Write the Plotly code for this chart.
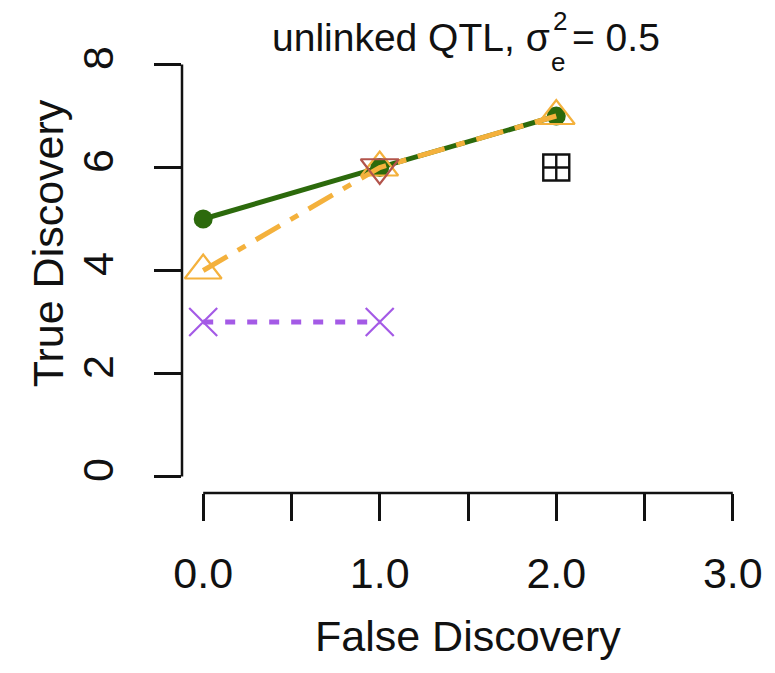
import plotly.graph_objects as go

# False / true discovery counts for each method
fd_green = [0, 1, 2]
td_green = [5, 6, 7]

fd_orange = [0, 1, 2]
td_orange = [4, 6, 7]

fd_red = [1]
td_red = [6]

fd_purple = [0, 1]
td_purple = [3, 3]

fd_black = [2]
td_black = [6]

x_tickvals = [0, 0.5, 1, 1.5, 2, 2.5, 3]
x_ticktext = ["0.0", "", "1.0", "", "2.0", "", "3.0"]
y_tickvals = [0, 2, 4, 6, 8]
y_ticktext = ["0", "2", "4", "6", "8"]

GREEN = "#2c6a0c"
ORANGE = "#f4b13c"
RED = "#b3544c"
PURPLE = "#a45ae6"
BLACK = "#111111"
FONT = "Liberation Sans, Arial, Helvetica, sans-serif"

W, H = 775, 673
ML, MR, MT, MB = 182, 16, 48, 180
PW, PH = W - ML - MR, H - MT - MB


def px_x(p):
    return (p - ML) / PW


def px_y(p):
    return (H - MB - p) / PH


fig = go.Figure()

fig.add_trace(go.Scatter(
    x=fd_green, y=td_green, mode="lines+markers",
    line=dict(color=GREEN, width=5),
    marker=dict(symbol="circle", size=19, color=GREEN),
    cliponaxis=False, showlegend=False))

fig.add_trace(go.Scatter(
    x=fd_orange, y=td_orange, mode="lines+markers",
    line=dict(color=ORANGE, width=5, dash="28px,12px,9px,12px"),
    marker=dict(symbol="triangle-up-open", size=32, color=ORANGE,
                line=dict(color=ORANGE, width=2.2)),
    cliponaxis=False, showlegend=False))

fig.add_trace(go.Scatter(
    x=fd_red, y=td_red, mode="markers",
    marker=dict(symbol="triangle-down-open", size=33, color=RED,
                line=dict(color=RED, width=2.2)),
    cliponaxis=False, showlegend=False))

fig.add_trace(go.Scatter(
    x=fd_purple, y=td_purple, mode="lines+markers",
    line=dict(color=PURPLE, width=5, dash="10px,12px"),
    marker=dict(symbol="x-thin-open", size=28, color=PURPLE,
                line=dict(color=PURPLE, width=2.2)),
    cliponaxis=False, showlegend=False))

fig.add_trace(go.Scatter(
    x=fd_black, y=td_black, mode="markers",
    marker=dict(symbol="square-cross-open", size=26, color=BLACK,
                line=dict(color=BLACK, width=2.4)),
    cliponaxis=False, showlegend=False))

# Detached axis lines spanning only the tick range
fig.add_shape(type="line", xref="x", yref="paper",
              x0=x_tickvals[0], x1=x_tickvals[-1], y0=0, y1=0,
              line=dict(color=BLACK, width=2.5))
fig.add_shape(type="line", xref="paper", yref="y",
              x0=0, x1=0, y0=y_tickvals[0], y1=y_tickvals[-1],
              line=dict(color=BLACK, width=2.5))

annotations = [
    dict(text="False Discovery", x=px_x(470), y=px_y(636),
         font=dict(size=43)),
    dict(text="True Discovery", x=px_x(47), y=px_y(243), textangle=-90,
         font=dict(size=43)),
    dict(text="unlinked QTL, σ", x=px_x(271), y=px_y(38), xanchor="left",
         font=dict(size=39)),
    dict(text="2", x=px_x(554), y=px_y(4), xanchor="left", yanchor="top",
         font=dict(size=26)),
    dict(text="e", x=px_x(552), y=px_y(62), xanchor="left",
         font=dict(size=26)),
    dict(text="= 0.5", x=px_x(573), y=px_y(38), xanchor="left",
         font=dict(size=39)),
]
for a in annotations:
    a.update(xref="paper", yref="paper", showarrow=False)
    a.setdefault("xanchor", "center")
    a.setdefault("yanchor", "middle")
    a["font"].update(family=FONT, color=BLACK)

fig.update_layout(
    width=W, height=H,
    margin=dict(l=ML, r=MR, t=MT, b=MB),
    paper_bgcolor="white", plot_bgcolor="white",
    font=dict(family=FONT, color=BLACK),
    annotations=annotations,
    xaxis=dict(range=[-0.12, 3.12], tickvals=x_tickvals, ticktext=x_ticktext,
               ticks="outside", ticklen=27, tickwidth=2.5, tickcolor=BLACK,
               ticklabelstandoff=15,
               tickfont=dict(size=43, family=FONT, color=BLACK),
               showline=False, showgrid=False, zeroline=False),
    yaxis=dict(range=[-0.32, 8.32], tickvals=y_tickvals, ticktext=y_ticktext,
               ticks="outside", ticklen=27, tickwidth=2.5, tickcolor=BLACK,
               tickangle=-90, ticklabelstandoff=24,
               tickfont=dict(size=43, family=FONT, color=BLACK),
               showline=False, showgrid=False, zeroline=False),
)

fig.write_html("out.html")
